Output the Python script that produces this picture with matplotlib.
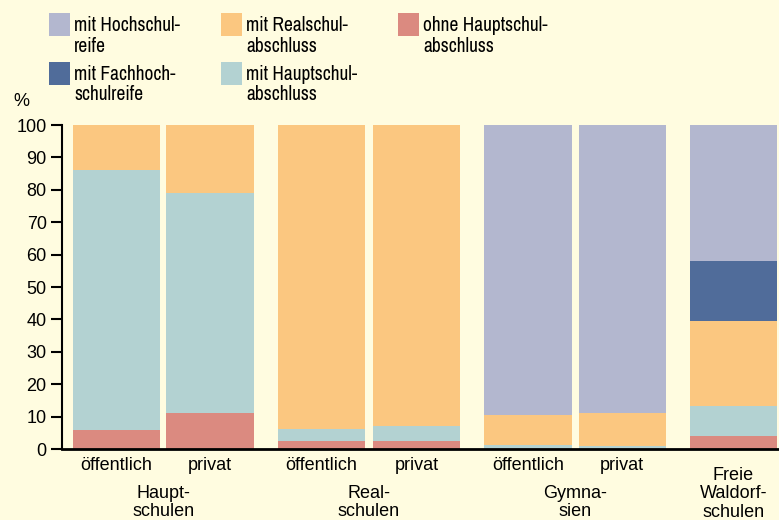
import matplotlib.pyplot as plt
from matplotlib.patches import Rectangle
import numpy as np

plt.rcParams['font.family'] = ['Liberation Sans', 'DejaVu Sans']
LEGEND_FONT = ['Archivo Narrow', 'PT Sans Narrow', 'Liberation Sans', 'DejaVu Sans']

# data (percent)
bar_labels = ['öffentlich', 'privat', 'öffentlich', 'privat', 'öffentlich', 'privat', '']
groups = ['Haupt-\nschulen', 'Real-\nschulen', 'Gymna-\nsien', 'Freie\nWaldorf-\nschulen']
ohne_haupt = [6, 11, 2.5, 2.5, 0, 0, 4]
mit_haupt = [80, 68, 3.7, 4.7, 1.2, 1.0, 9.4]
mit_real = [14, 21, 93.8, 92.8, 9.3, 10.0, 26.2]
mit_fachhoch = [0, 0, 0, 0, 0, 0, 18.4]
mit_hoch = [0, 0, 0, 0, 89.5, 89.0, 42]

series = [
    ('ohne Hauptschul-\nabschluss', ohne_haupt, '#DB8A80'),
    ('mit Hauptschul-\nabschluss', mit_haupt, '#B3D2D2'),
    ('mit Realschul-\nabschluss', mit_real, '#FBC780'),
    ('mit Fachhoch-\nschulreife', mit_fachhoch, '#506C9A'),
    ('mit Hochschul-\nreife', mit_hoch, '#B3B7CF'),
]

bg = '#FFFCE0'
fig = plt.figure(figsize=(7.79, 5.2), dpi=100, facecolor=bg)
ax = fig.add_axes([62 / 779, 71 / 520, 717 / 779, 324 / 520], facecolor=bg)

pos = np.array([0, 1.07, 2.34, 3.43, 4.70, 5.78, 7.05])
bottom = np.zeros(len(pos))
for name, vals, col in series:
    vals = np.array(vals, dtype=float)
    ax.bar(pos, vals, width=1.0, bottom=bottom, color=col, linewidth=0)
    bottom += vals

ax.set_xlim(-0.623, 7.57)
ax.set_ylim(0, 100)
ax.set_yticks(range(0, 101, 10))
ax.tick_params(axis='y', labelsize=13, length=8, width=1.5, direction='out', pad=3)
ax.tick_params(axis='x', length=0, labelsize=13, pad=6)
ax.set_xticks(pos)
ax.set_xticklabels(bar_labels)
for s in ['top', 'right']:
    ax.spines[s].set_visible(False)
ax.spines['left'].set_linewidth(1.5)
ax.spines['bottom'].set_linewidth(2)

# group labels under the bar pairs
group_x = [(pos[0] + pos[1]) / 2, (pos[2] + pos[3]) / 2, (pos[4] + pos[5]) / 2, pos[6]]
group_y = [-11.0, -11.0, -11.0, -5.5]
for gx, gy, g in zip(group_x, group_y, groups):
    ax.text(gx, gy, g, ha='center', va='top', fontsize=13, linespacing=1.12)

fig.text(13 / 779, 1 - 101 / 520, '%', fontsize=13, ha='left', va='center')

# legend, drawn by hand in figure pixels
legend_items = [
    (49, 13, 4), (49, 62, 3), (221, 13, 2), (221, 62, 1), (398, 13, 0),
]
for lx, ly, idx in legend_items:
    name, vals, col = series[idx]
    fig.patches.append(Rectangle((lx / 779, 1 - (ly + 23) / 520), 21 / 779, 23 / 520,
                                 transform=fig.transFigure, color=col, linewidth=0))
    fig.text((lx + 25) / 779, 1 - (ly + 3) / 520, name, fontsize=14, ha='left', va='top',
             linespacing=1.1, family=LEGEND_FONT)

fig.savefig('out.png', dpi=100, facecolor=bg)
